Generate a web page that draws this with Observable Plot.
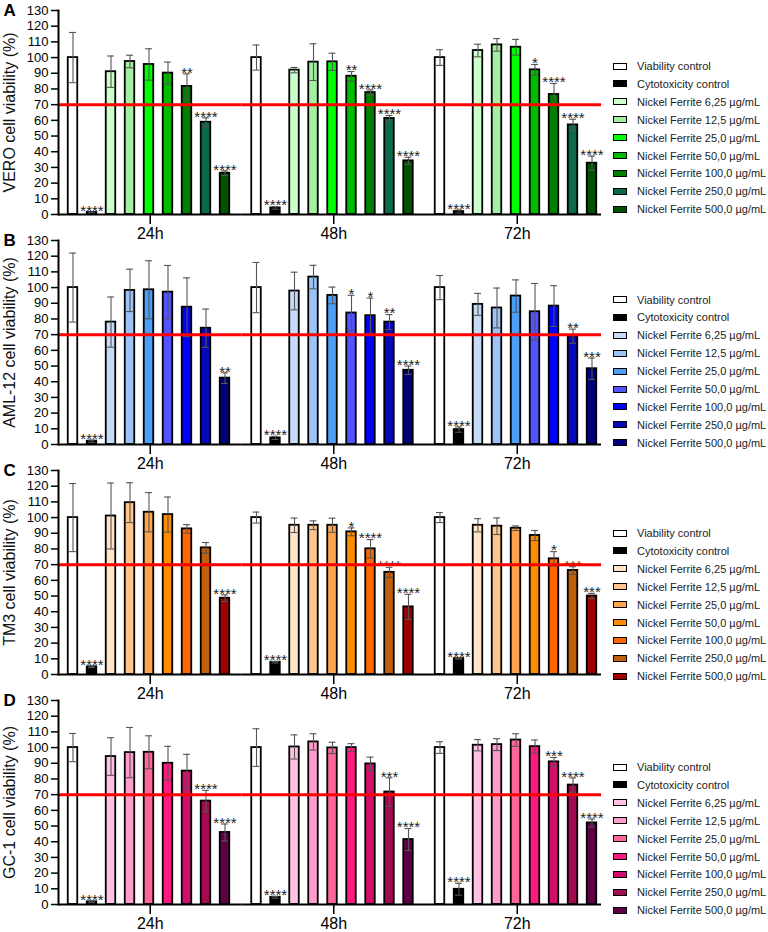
<!DOCTYPE html>
<html>
<head>
<meta charset="utf-8">
<script src="https://cdn.jsdelivr.net/npm/d3@7"></script>
<script src="https://cdn.jsdelivr.net/npm/@observablehq/plot@0.6"></script>
<style>
  body { margin: 0; background: #fff; font-family: "Liberation Sans", Arial, sans-serif; }
  #figure { position: relative; width: 768px; height: 932px; overflow: hidden; background: #fff; }
  .panel { position: absolute; left: 0; width: 768px; height: 250px; }
  .panel svg { position: absolute; left: 0; top: 0; }
  .legend { position: absolute; left: 613px; font-size: 11px; color: #222; }
  .legend .row { position: absolute; left: 0; height: 14px; display: flex; align-items: center; white-space: nowrap; }
  .legend .sw { width: 14px; height: 7px; box-sizing: border-box; border: 1.5px solid #000; margin-right: 10px; }
</style>
</head>
<body>
<div id="figure"></div>
<script>
// Sampling times and treatments (legend order)
const times = ["24h", "48h", "72h"];
const treatments = [
  "Viability control",
  "Cytotoxicity control",
  "Nickel Ferrite 6,25 µg/mL",
  "Nickel Ferrite 12,5 µg/mL",
  "Nickel Ferrite 25,0 µg/mL",
  "Nickel Ferrite 50,0 µg/mL",
  "Nickel Ferrite 100,0 µg/mL",
  "Nickel Ferrite 250,0 µg/mL",
  "Nickel Ferrite 500,0 µg/mL"
];
const yTicks = [0, 10, 20, 30, 40, 50, 60, 70, 80, 90, 100, 110, 120, 130];
const viabilityThreshold = 70;

// VERO — mean viability (%), SD and significance, one row per time point
const veroMean = [
  [100, 1.3, 91.0, 97.5, 95.6, 90.1, 81.6, 58.8, 26.3],
  [100, 4.2, 92.0, 97.1, 97.3, 88.1, 77.7, 61.2, 34.2],
  [100, 1.9, 104.5, 108.1, 106.6, 92.2, 76.5, 57.1, 32.7]
];
const veroSd = [
  [16, 0.3, 10, 4, 10, 7, 8, 2.8, 1.5],
  [8, 0.8, 1.7, 11.7, 5.5, 3, 1.7, 1.9, 2.3],
  [5, 1, 4, 4, 5, 3.4, 7, 3.6, 4.5]
];
const veroStars = [
  ["", "****", "", "", "", "", "**", "****", "****"],
  ["", "****", "", "", "", "**", "****", "****", "****"],
  ["", "****", "", "", "", "*", "****", "****", "****"]
];

// AML-12
const amlMean = [
  [100, 2.1, 78.0, 98.2, 98.6, 97.1, 87.5, 74.1, 42.3],
  [100, 4.2, 97.8, 106.7, 95.0, 83.8, 82.1, 78.0, 47.3],
  [100, 9.5, 89.3, 87.0, 94.6, 84.6, 88.2, 69.0, 48.3]
];
const amlSd = [
  [22, 0.7, 16, 13.5, 18.5, 17, 18.7, 12.2, 3.4],
  [16, 1, 12, 7.5, 5.3, 11.3, 11.2, 4.8, 2.7],
  [7.7, 1.7, 7, 12.7, 10.3, 18, 13, 4.5, 6.8]
];
const amlStars = [
  ["", "****", "", "", "", "", "", "", "**"],
  ["", "****", "", "", "", "*", "*", "**", "****"],
  ["", "****", "", "", "", "", "", "**", "***"]
];

// TM3
const tm3Mean = [
  [100, 4.9, 101.0, 109.5, 103.4, 101.9, 92.8, 80.7, 48.6],
  [100, 7.8, 95.1, 95.1, 95.1, 90.9, 80.1, 65.1, 43.1],
  [100, 10.1, 95.1, 94.5, 93.2, 88.6, 73.7, 66.3, 50.0]
];
const tm3Sd = [
  [21.7, 0.5, 21, 12.7, 12.5, 11.2, 2.7, 3.4, 2.1],
  [3.5, 0.5, 4.6, 2.8, 4.5, 2.5, 5.9, 3.2, 8],
  [3.2, 0.3, 4.2, 5.3, 1.5, 3.2, 4.6, 2.4, 1.7]
];
const tm3Stars = [
  ["", "****", "", "", "", "", "", "", "****"],
  ["", "****", "", "", "", "*", "****", "****", "****"],
  ["", "****", "", "", "", "", "*", "***", "***"]
];

// GC-1
const gc1Mean = [
  [100, 1.7, 94.3, 96.8, 97.0, 90.0, 85.0, 65.9, 45.9],
  [100, 4.6, 100.4, 103.6, 99.8, 100.0, 89.6, 71.7, 41.4],
  [100, 9.7, 101.5, 101.9, 104.8, 100.6, 90.9, 76.1, 52.0]
];
const gc1Sd = [
  [9, 0.5, 12, 16, 10.5, 10.8, 10.7, 6.8, 5.4],
  [12, 0.6, 7.7, 5.2, 3.6, 2.5, 4.3, 9, 7],
  [3.7, 3.8, 3.6, 3.8, 4, 4.2, 2.8, 4.6, 2.5]
];
const gc1Stars = [
  ["", "****", "", "", "", "", "", "****", "****"],
  ["", "****", "", "", "", "", "", "***", "****"],
  ["", "****", "", "", "", "", "***", "****", "****"]
];

// Fill colours per cell line, in treatment order
const veroColors = ["#ffffff", "#000000", "#ccffcc", "#a3f0a3", "#00ff00", "#00bb00", "#008000", "#0b6a4a", "#005200"];
const amlColors  = ["#ffffff", "#000000", "#c6dbf6", "#9bc3f6", "#4d9ef7", "#5252ff", "#0000ff", "#0808bb", "#00007a"];
const tm3Colors  = ["#ffffff", "#000000", "#ffe4c8", "#ffc58a", "#ffa64d", "#ff8c00", "#ff6600", "#c0600c", "#a00000"];
const gc1Colors  = ["#ffffff", "#000000", "#ffc2e2", "#ff9ccc", "#ff6699", "#ff1a80", "#d30f6d", "#a30a50", "#5e0046"];

const panels = [
  {letter: "A", title: "VERO cell viability (%)",   mean: veroMean, sd: veroSd, stars: veroStars, colors: veroColors},
  {letter: "B", title: "AML-12 cell viability (%)", mean: amlMean,  sd: amlSd,  stars: amlStars,  colors: amlColors},
  {letter: "C", title: "TM3 cell viability (%)",    mean: tm3Mean,  sd: tm3Sd,  stars: tm3Stars,  colors: tm3Colors},
  {letter: "D", title: "GC-1 cell viability (%)",   mean: gc1Mean,  sd: gc1Sd,  stars: gc1Stars,  colors: gc1Colors}
];

// Layout
const FONT = "'Liberation Sans', Arial, Helvetica, sans-serif";
const W = 768, H = 250;
const marginLeft = 58, marginTop = 10, marginBottom = 36;
const groupStep = 183.5, barStep = 19, barWidth = 9.5, firstBarLeft = 9.75;
const lineTrim = 7.5;
const marginRight = W - (marginLeft + times.length * groupStep);
const panelTop = [0, 230, 460, 690];
const legendTop = [66, 299.5, 533, 767];
const legendStep = 17.9;

// band layout of the bars inside each time group
const nT = treatments.length;
const xPadInner = 1 - barWidth / barStep;
const xPadOuter = (groupStep / barStep - nT + xPadInner) / 2;
const xAlign = firstBarLeft / (groupStep - barStep * (nT - xPadInner));

function panelRows(p) {
  return times.flatMap((t, i) => treatments.map((tr, j) => ({
    time: t, treatment: tr, mean: p.mean[i][j], sd: p.sd[i][j], stars: p.stars[i][j]
  })));
}

function drawPanel(p) {
  const rows = panelRows(p);
  const leading = times.slice(0, -1), last = times.slice(-1);
  const hline = (facets, y, opts) => Plot.ruleY(facets, {fx: d => d, y: () => y, ...opts});
  return Plot.plot({
    width: W, height: H,
    marginLeft, marginRight, marginTop, marginBottom,
    facet: {marginTop: 0, marginRight: 0, marginBottom: 0, marginLeft: 0},
    style: {fontFamily: FONT, color: "#000", background: "transparent", overflow: "visible"},
    fx: {domain: times, paddingInner: 0, paddingOuter: 0, round: false, axis: null, label: null},
    x: {domain: treatments, paddingInner: xPadInner, paddingOuter: xPadOuter, align: xAlign, round: false, axis: null},
    y: {domain: [0, 130], axis: null},
    color: {domain: treatments, range: p.colors},
    marks: [
      Plot.barY(rows, {fx: "time", x: "treatment", y: "mean", fill: "treatment", stroke: "#000", strokeWidth: 1.8}),
      Plot.ruleX(rows, {fx: "time", x: "treatment", y1: d => d.mean - d.sd, y2: d => d.mean + d.sd, stroke: "#555", strokeWidth: 1.1}),
      Plot.tickY(rows, {fx: "time", x: "treatment", y: d => d.mean + d.sd, stroke: "#555", strokeWidth: 1.1, insetLeft: 1.3, insetRight: 1.3}),
      Plot.tickY(rows, {fx: "time", x: "treatment", y: d => d.mean - d.sd, stroke: "#555", strokeWidth: 1.1, insetLeft: 1.3, insetRight: 1.3}),
      Plot.text(rows.filter(d => d.stars), {fx: "time", x: "treatment", y: d => d.mean + d.sd, text: "stars", fontSize: 15, fill: "#222", dy: -1}),
      // 70 % viability threshold
      hline(leading, viabilityThreshold, {stroke: "#ff0000", strokeWidth: 3}),
      hline(last, viabilityThreshold, {stroke: "#ff0000", strokeWidth: 3, insetRight: lineTrim}),
      // axes
      hline(leading, 0, {stroke: "#000", strokeWidth: 2}),
      hline(last, 0, {stroke: "#000", strokeWidth: 2, insetRight: lineTrim}),
      Plot.frame({anchor: "left", facetAnchor: "left", stroke: "#000", strokeWidth: 2}),
      Plot.axisY(yTicks, {anchor: "left", tickSize: 7, tickPadding: 3, fontSize: 13, strokeWidth: 1.5, label: null}),
      Plot.axisFx({anchor: "bottom", tickSize: 10, tickPadding: 3, fontSize: 16, strokeWidth: 1.5, label: null}),
      Plot.text([p.title], {text: d => d, frameAnchor: "left", textAnchor: "middle", rotate: -90, dx: -49, fontSize: 16, fill: "#111", facetAnchor: "left"}),
      Plot.text([p.letter], {text: d => d, frameAnchor: "top-left", textAnchor: "start", lineAnchor: "top", dx: -55, dy: -7, fontSize: 17, fontWeight: "bold", facetAnchor: "left"})
    ]
  });
}

const fig = document.getElementById("figure");
panels.forEach((p, i) => {
  const div = document.createElement("div");
  div.className = "panel";
  div.style.top = panelTop[i] + "px";
  div.append(drawPanel(p));

  const legend = document.createElement("div");
  legend.className = "legend";
  legend.style.top = (legendTop[i] - panelTop[i]) + "px";
  treatments.forEach((tr, k) => {
    const row = document.createElement("div");
    row.className = "row";
    row.style.top = (k * legendStep - 7) + "px";
    const sw = document.createElement("span");
    sw.className = "sw";
    sw.style.background = p.colors[k];
    const label = document.createElement("span");
    label.textContent = tr;
    row.append(sw, label);
    legend.append(row);
  });
  div.append(legend);
  fig.append(div);
});
</script>
</body>
</html>
